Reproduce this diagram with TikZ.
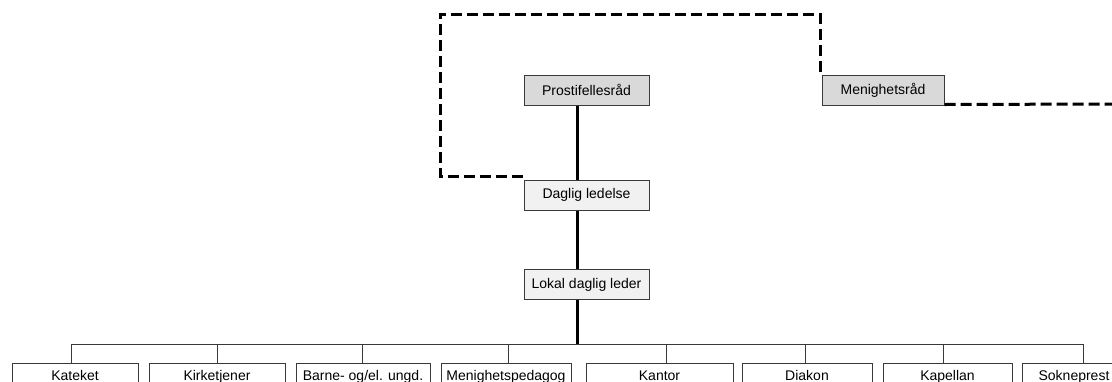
\documentclass[tikz,border=0pt]{standalone}
\usepackage{fontspec}
\setmainfont{Liberation Sans}
\definecolor{boxline}{HTML}{3A3A3A}
\definecolor{darkfill}{HTML}{D9D9D9}
\definecolor{lightfill}{HTML}{F1F1F1}
\begin{document}
\begin{tikzpicture}[x=1pt,y=-1pt,
  box/.style={draw=boxline, line width=1pt, minimum height=30pt, inner sep=0pt,
    font=\fontsize{14}{16}\selectfont, text=black},
  topbox/.style={box, fill=darkfill},
  midbox/.style={box, fill=lightfill},
  childbox/.style={box, fill=white, anchor=north, minimum height=0pt,
    inner ysep=5pt, text height=12pt, text depth=8pt},
  spineline/.style={line width=3pt, black},
  busline/.style={line width=1pt, boxline},
  dashline/.style={line width=3pt, black, dash pattern=on 11pt off 5pt}]
\useasboundingbox (0,0) rectangle (1112,381);
\clip (0,0) rectangle (1112,381);

% upper nodes
\node[topbox, minimum width=125pt] (pr) at (586.5,90) {Prostifellesråd};
\node[topbox, minimum width=122pt] (mr) at (883,90) {Menighetsråd};
\node[midbox, minimum width=125pt] (dl) at (586.5,195) {Daglig ledelse};
\node[midbox, minimum width=125pt] (ll) at (586.5,284.5) {Lokal daglig leder};

% children
\node[childbox, minimum width=126pt] (c1) at (75,362.5) {Kateket};
\node[childbox, minimum width=136pt] (c2) at (217,362.5) {Kirketjener};
\node[childbox, minimum width=134pt] (c3) at (363,362.5) {Barne- og/el. ungd.};
\node[childbox, minimum width=130pt] (c4) at (506,362.5) {Menighetspedagog};
\node[childbox, minimum width=147pt] (c5) at (659.5,362.5) {Kantor};
\node[childbox, minimum width=130pt] (c6) at (807,362.5) {Diakon};
\node[childbox, minimum width=129pt] (c7) at (947.5,362.5) {Kapellan};
\node[childbox, minimum width=104pt] (c8) at (1074,362.5) {Sokneprest};

% helper coordinates
\coordinate (spine) at (577.5,344);
\coordinate (b1) at (71.7,344);
\coordinate (b2) at (217.3,344);
\coordinate (b3) at (362.3,344);
\coordinate (b4) at (508.3,344);
\coordinate (b5) at (666,344);
\coordinate (b6) at (805.7,344);
\coordinate (b7) at (943.3,344);
\coordinate (b8) at (1083.3,344);
\coordinate (dashL) at (440,14);
\coordinate (rightend) at (1112,104);

% bus and drops
\draw[busline] (b1) -- (b8);
\foreach \i in {1,...,8}{
  \draw[busline] (b\i) -- (b\i |- c\i.north);
}

% spine
\draw[spineline] (pr.south -| spine) -- (dl.north -| spine);
\draw[spineline] (dl.south -| spine) -- (ll.north -| spine);
\draw[spineline] (ll.south -| spine) -- (spine);

% dashed connectors
\draw[dashline] ([xshift=-1pt,yshift=3pt]dl.north west) -| (dashL) -| ([xshift=-1pt]mr.north west);
\draw[dashline] ([yshift=1pt]mr.south east) -- (rightend);
\end{tikzpicture}
\end{document}
